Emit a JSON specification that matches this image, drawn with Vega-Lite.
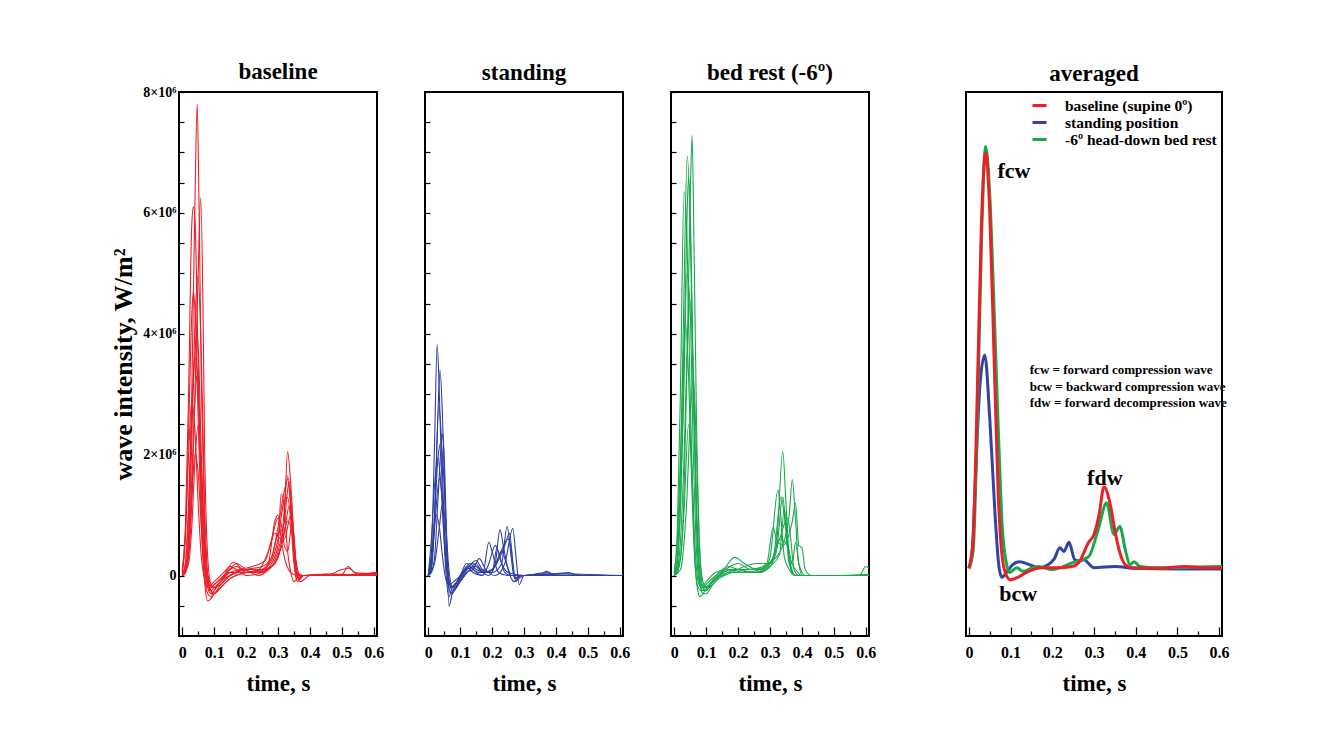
{
  "$schema": "https://vega.github.io/schema/vega-lite/v6.json",
  "autosize": {"type": "none"},
  "padding": {"left": 179, "top": 92, "right": 1138, "bottom": 648},
  "background": "white",
  "config": {
    "font": "Liberation Serif",
    "view": {"stroke": "black", "strokeWidth": 2},
    "title": {"fontSize": 23, "fontWeight": "bold", "offset": 6, "color": "black"},
    "axis": {"domain": false, "grid": false, "tickColor": "black", "tickWidth": 1.2, "labelColor": "black", "titleColor": "black", "labelFontWeight": "bold", "titleFontWeight": "bold", "labelOverlap": false, "labelFlush": false, "labelBound": false},
    "line": {"interpolate": "monotone"}
  },
  "datasets": {
    "baseline": [
      {"beat":1,"t":0,"wi":0},{"beat":1,"t":0.01,"wi":0.05},{"beat":1,"t":0.02,"wi":0.6},{"beat":1,"t":0.03,"wi":3.0},{"beat":1,"t":0.04,"wi":6.2},{"beat":1,"t":0.047,"wi":7.8},{"beat":1,"t":0.053,"wi":6.0},{"beat":1,"t":0.06,"wi":3.2},{"beat":1,"t":0.07,"wi":0.8},{"beat":1,"t":0.08,"wi":-0.15},{"beat":1,"t":0.09,"wi":-0.2},{"beat":1,"t":0.1,"wi":-0.15},{"beat":1,"t":0.12,"wi":-0.05},{"beat":1,"t":0.15,"wi":0.05},{"beat":1,"t":0.2,"wi":0.05},{"beat":1,"t":0.25,"wi":0.1},{"beat":1,"t":0.28,"wi":0.3},{"beat":1,"t":0.3,"wi":0.8},{"beat":1,"t":0.32,"wi":1.4},{"beat":1,"t":0.33,"wi":1.6},{"beat":1,"t":0.34,"wi":1.1},{"beat":1,"t":0.35,"wi":0.3},{"beat":1,"t":0.36,"wi":-0.05},{"beat":1,"t":0.38,"wi":0},{"beat":1,"t":0.45,"wi":0},{"beat":1,"t":0.5,"wi":0.02},{"beat":1,"t":0.55,"wi":0},{"beat":1,"t":0.61,"wi":0.02},
      {"beat":2,"t":0,"wi":0.1},{"beat":2,"t":0.01,"wi":0.8},{"beat":2,"t":0.02,"wi":3.0},{"beat":2,"t":0.03,"wi":5.8},{"beat":2,"t":0.035,"wi":6.1},{"beat":2,"t":0.04,"wi":5.9},{"beat":2,"t":0.05,"wi":3.5},{"beat":2,"t":0.06,"wi":1.2},{"beat":2,"t":0.07,"wi":0},{"beat":2,"t":0.08,"wi":-0.3},{"beat":2,"t":0.09,"wi":-0.35},{"beat":2,"t":0.1,"wi":-0.25},{"beat":2,"t":0.12,"wi":-0.1},{"beat":2,"t":0.15,"wi":0.1},{"beat":2,"t":0.17,"wi":0.15},{"beat":2,"t":0.2,"wi":0.05},{"beat":2,"t":0.25,"wi":0.05},{"beat":2,"t":0.27,"wi":0.2},{"beat":2,"t":0.29,"wi":0.9},{"beat":2,"t":0.3,"wi":1.0},{"beat":2,"t":0.31,"wi":0.6},{"beat":2,"t":0.32,"wi":0.3},{"beat":2,"t":0.34,"wi":0.05},{"beat":2,"t":0.36,"wi":0},{"beat":2,"t":0.45,"wi":0.02},{"beat":2,"t":0.5,"wi":0.02},{"beat":2,"t":0.52,"wi":0.15},{"beat":2,"t":0.54,"wi":0.05},{"beat":2,"t":0.61,"wi":0.03},
      {"beat":3,"t":0,"wi":0},{"beat":3,"t":0.01,"wi":0.1},{"beat":3,"t":0.02,"wi":0.6},{"beat":3,"t":0.03,"wi":2.2},{"beat":3,"t":0.04,"wi":4.2},{"beat":3,"t":0.05,"wi":4.95},{"beat":3,"t":0.06,"wi":3.6},{"beat":3,"t":0.07,"wi":1.2},{"beat":3,"t":0.08,"wi":0},{"beat":3,"t":0.09,"wi":-0.3},{"beat":3,"t":0.1,"wi":-0.3},{"beat":3,"t":0.12,"wi":-0.15},{"beat":3,"t":0.15,"wi":0},{"beat":3,"t":0.2,"wi":0.1},{"beat":3,"t":0.25,"wi":0.1},{"beat":3,"t":0.28,"wi":0.15},{"beat":3,"t":0.3,"wi":0.3},{"beat":3,"t":0.32,"wi":1.0},{"beat":3,"t":0.33,"wi":2.05},{"beat":3,"t":0.34,"wi":1.5},{"beat":3,"t":0.35,"wi":0.6},{"beat":3,"t":0.36,"wi":0},{"beat":3,"t":0.37,"wi":-0.1},{"beat":3,"t":0.4,"wi":0},{"beat":3,"t":0.5,"wi":0},{"beat":3,"t":0.61,"wi":0.05},
      {"beat":4,"t":0,"wi":0.05},{"beat":4,"t":0.01,"wi":0.6},{"beat":4,"t":0.02,"wi":2.4},{"beat":4,"t":0.03,"wi":4.3},{"beat":4,"t":0.035,"wi":4.7},{"beat":4,"t":0.04,"wi":4.4},{"beat":4,"t":0.05,"wi":2.6},{"beat":4,"t":0.06,"wi":0.8},{"beat":4,"t":0.07,"wi":-0.1},{"beat":4,"t":0.08,"wi":-0.42},{"beat":4,"t":0.09,"wi":-0.38},{"beat":4,"t":0.1,"wi":-0.3},{"beat":4,"t":0.12,"wi":-0.2},{"beat":4,"t":0.15,"wi":-0.05},{"beat":4,"t":0.2,"wi":0.05},{"beat":4,"t":0.24,"wi":0.1},{"beat":4,"t":0.27,"wi":0.4},{"beat":4,"t":0.29,"wi":0.7},{"beat":4,"t":0.31,"wi":0.6},{"beat":4,"t":0.33,"wi":1.65},{"beat":4,"t":0.34,"wi":1.2},{"beat":4,"t":0.35,"wi":0.3},{"beat":4,"t":0.36,"wi":-0.05},{"beat":4,"t":0.38,"wi":0},{"beat":4,"t":0.45,"wi":0},{"beat":4,"t":0.61,"wi":0.02},
      {"beat":5,"t":0,"wi":0},{"beat":5,"t":0.01,"wi":0.2},{"beat":5,"t":0.02,"wi":1.2},{"beat":5,"t":0.03,"wi":2.8},{"beat":5,"t":0.04,"wi":3.6},{"beat":5,"t":0.05,"wi":3.2},{"beat":5,"t":0.06,"wi":1.5},{"beat":5,"t":0.07,"wi":0.3},{"beat":5,"t":0.08,"wi":-0.1},{"beat":5,"t":0.09,"wi":-0.2},{"beat":5,"t":0.1,"wi":-0.15},{"beat":5,"t":0.13,"wi":0},{"beat":5,"t":0.16,"wi":0.22},{"beat":5,"t":0.19,"wi":0.1},{"beat":5,"t":0.23,"wi":0.05},{"beat":5,"t":0.27,"wi":0.1},{"beat":5,"t":0.3,"wi":0.4},{"beat":5,"t":0.32,"wi":0.9},{"beat":5,"t":0.335,"wi":1.55},{"beat":5,"t":0.345,"wi":1.0},{"beat":5,"t":0.355,"wi":0.2},{"beat":5,"t":0.365,"wi":-0.05},{"beat":5,"t":0.38,"wi":0},{"beat":5,"t":0.45,"wi":0.02},{"beat":5,"t":0.61,"wi":0},
      {"beat":6,"t":0,"wi":0},{"beat":6,"t":0.01,"wi":0.05},{"beat":6,"t":0.02,"wi":0.4},{"beat":6,"t":0.03,"wi":1.6},{"beat":6,"t":0.04,"wi":2.9},{"beat":6,"t":0.045,"wi":3.3},{"beat":6,"t":0.05,"wi":3.0},{"beat":6,"t":0.06,"wi":1.4},{"beat":6,"t":0.07,"wi":0.2},{"beat":6,"t":0.08,"wi":-0.15},{"beat":6,"t":0.09,"wi":-0.25},{"beat":6,"t":0.1,"wi":-0.2},{"beat":6,"t":0.12,"wi":-0.1},{"beat":6,"t":0.15,"wi":0.05},{"beat":6,"t":0.18,"wi":0.1},{"beat":6,"t":0.22,"wi":0.15},{"beat":6,"t":0.26,"wi":0.25},{"beat":6,"t":0.28,"wi":0.6},{"beat":6,"t":0.3,"wi":0.95},{"beat":6,"t":0.31,"wi":0.85},{"beat":6,"t":0.32,"wi":0.5},{"beat":6,"t":0.33,"wi":0.4},{"beat":6,"t":0.345,"wi":0.9},{"beat":6,"t":0.355,"wi":0.3},{"beat":6,"t":0.37,"wi":0},{"beat":6,"t":0.4,"wi":0},{"beat":6,"t":0.61,"wi":0},
      {"beat":7,"t":0,"wi":0.05},{"beat":7,"t":0.01,"wi":0.7},{"beat":7,"t":0.02,"wi":2.0},{"beat":7,"t":0.03,"wi":2.9},{"beat":7,"t":0.04,"wi":2.4},{"beat":7,"t":0.05,"wi":1.2},{"beat":7,"t":0.06,"wi":0.3},{"beat":7,"t":0.07,"wi":-0.05},{"beat":7,"t":0.08,"wi":-0.2},{"beat":7,"t":0.1,"wi":-0.1},{"beat":7,"t":0.13,"wi":0.05},{"beat":7,"t":0.15,"wi":0.15},{"beat":7,"t":0.17,"wi":0.1},{"beat":7,"t":0.2,"wi":0},{"beat":7,"t":0.25,"wi":0.05},{"beat":7,"t":0.28,"wi":0.2},{"beat":7,"t":0.3,"wi":0.5},{"beat":7,"t":0.31,"wi":1.35},{"beat":7,"t":0.32,"wi":1.1},{"beat":7,"t":0.33,"wi":0.4},{"beat":7,"t":0.34,"wi":0.05},{"beat":7,"t":0.35,"wi":-0.1},{"beat":7,"t":0.37,"wi":0},{"beat":7,"t":0.45,"wi":0},{"beat":7,"t":0.55,"wi":0.02},{"beat":7,"t":0.61,"wi":0.02},
      {"beat":8,"t":0,"wi":0},{"beat":8,"t":0.02,"wi":0.2},{"beat":8,"t":0.03,"wi":0.8},{"beat":8,"t":0.04,"wi":1.9},{"beat":8,"t":0.05,"wi":2.5},{"beat":8,"t":0.06,"wi":1.8},{"beat":8,"t":0.07,"wi":0.6},{"beat":8,"t":0.08,"wi":0},{"beat":8,"t":0.09,"wi":-0.15},{"beat":8,"t":0.1,"wi":-0.2},{"beat":8,"t":0.12,"wi":-0.1},{"beat":8,"t":0.15,"wi":0},{"beat":8,"t":0.18,"wi":0.05},{"beat":8,"t":0.22,"wi":0.05},{"beat":8,"t":0.26,"wi":0.1},{"beat":8,"t":0.29,"wi":0.2},{"beat":8,"t":0.31,"wi":0.5},{"beat":8,"t":0.33,"wi":0.9},{"beat":8,"t":0.345,"wi":0.7},{"beat":8,"t":0.355,"wi":0.2},{"beat":8,"t":0.365,"wi":-0.08},{"beat":8,"t":0.38,"wi":0},{"beat":8,"t":0.45,"wi":0},{"beat":8,"t":0.5,"wi":0.1},{"beat":8,"t":0.52,"wi":0.12},{"beat":8,"t":0.55,"wi":0.02},{"beat":8,"t":0.61,"wi":0},
      {"beat":9,"t":0,"wi":0},{"beat":9,"t":0.01,"wi":0.1},{"beat":9,"t":0.02,"wi":0.5},{"beat":9,"t":0.03,"wi":1.3},{"beat":9,"t":0.04,"wi":2.0},{"beat":9,"t":0.05,"wi":1.7},{"beat":9,"t":0.06,"wi":0.8},{"beat":9,"t":0.07,"wi":0.1},{"beat":9,"t":0.08,"wi":-0.2},{"beat":9,"t":0.09,"wi":-0.3},{"beat":9,"t":0.1,"wi":-0.25},{"beat":9,"t":0.12,"wi":-0.1},{"beat":9,"t":0.14,"wi":0.05},{"beat":9,"t":0.17,"wi":0.2},{"beat":9,"t":0.2,"wi":0.1},{"beat":9,"t":0.24,"wi":0},{"beat":9,"t":0.27,"wi":0.1},{"beat":9,"t":0.3,"wi":0.3},{"beat":9,"t":0.32,"wi":0.7},{"beat":9,"t":0.335,"wi":1.15},{"beat":9,"t":0.345,"wi":0.8},{"beat":9,"t":0.355,"wi":0.1},{"beat":9,"t":0.37,"wi":0},{"beat":9,"t":0.45,"wi":0.02},{"beat":9,"t":0.61,"wi":0},
      {"beat":10,"t":0,"wi":0.02},{"beat":10,"t":0.01,"wi":0.2},{"beat":10,"t":0.02,"wi":1.0},{"beat":10,"t":0.03,"wi":2.6},{"beat":10,"t":0.04,"wi":3.7},{"beat":10,"t":0.045,"wi":4.0},{"beat":10,"t":0.05,"wi":3.8},{"beat":10,"t":0.06,"wi":2.0},{"beat":10,"t":0.07,"wi":0.5},{"beat":10,"t":0.08,"wi":0},{"beat":10,"t":0.09,"wi":-0.25},{"beat":10,"t":0.1,"wi":-0.3},{"beat":10,"t":0.12,"wi":-0.2},{"beat":10,"t":0.15,"wi":-0.05},{"beat":10,"t":0.2,"wi":0.05},{"beat":10,"t":0.25,"wi":0.1},{"beat":10,"t":0.28,"wi":0.25},{"beat":10,"t":0.3,"wi":0.6},{"beat":10,"t":0.32,"wi":1.25},{"beat":10,"t":0.33,"wi":1.3},{"beat":10,"t":0.34,"wi":0.9},{"beat":10,"t":0.35,"wi":0.2},{"beat":10,"t":0.36,"wi":-0.1},{"beat":10,"t":0.38,"wi":0},{"beat":10,"t":0.45,"wi":0},{"beat":10,"t":0.61,"wi":0.05},
      {"beat":11,"t":0,"wi":0},{"beat":11,"t":0.01,"wi":0.05},{"beat":11,"t":0.02,"wi":0.3},{"beat":11,"t":0.03,"wi":1.2},{"beat":11,"t":0.04,"wi":3.0},{"beat":11,"t":0.05,"wi":5.0},{"beat":11,"t":0.058,"wi":6.25},{"beat":11,"t":0.065,"wi":4.5},{"beat":11,"t":0.07,"wi":2.2},{"beat":11,"t":0.08,"wi":0.3},{"beat":11,"t":0.09,"wi":-0.15},{"beat":11,"t":0.1,"wi":-0.2},{"beat":11,"t":0.12,"wi":-0.15},{"beat":11,"t":0.15,"wi":0},{"beat":11,"t":0.2,"wi":0.1},{"beat":11,"t":0.25,"wi":0.15},{"beat":11,"t":0.28,"wi":0.3},{"beat":11,"t":0.3,"wi":0.7},{"beat":11,"t":0.31,"wi":0.75},{"beat":11,"t":0.32,"wi":0.6},{"beat":11,"t":0.34,"wi":1.0},{"beat":11,"t":0.35,"wi":0.6},{"beat":11,"t":0.36,"wi":0.05},{"beat":11,"t":0.38,"wi":0},{"beat":11,"t":0.45,"wi":0},{"beat":11,"t":0.61,"wi":0.02}
    ],
    "standing": [
      {"beat":1,"t":0,"wi":0},{"beat":1,"t":0.01,"wi":0.4},{"beat":1,"t":0.02,"wi":2.2},{"beat":1,"t":0.028,"wi":3.82},{"beat":1,"t":0.035,"wi":3.0},{"beat":1,"t":0.045,"wi":1.2},{"beat":1,"t":0.055,"wi":0.1},{"beat":1,"t":0.065,"wi":-0.35},{"beat":1,"t":0.075,"wi":-0.2},{"beat":1,"t":0.09,"wi":-0.1},{"beat":1,"t":0.11,"wi":0.05},{"beat":1,"t":0.13,"wi":0.15},{"beat":1,"t":0.15,"wi":0.05},{"beat":1,"t":0.17,"wi":0},{"beat":1,"t":0.19,"wi":0.2},{"beat":1,"t":0.21,"wi":0.5},{"beat":1,"t":0.225,"wi":0.3},{"beat":1,"t":0.24,"wi":0.05},{"beat":1,"t":0.26,"wi":0},{"beat":1,"t":0.3,"wi":0},{"beat":1,"t":0.35,"wi":0.02},{"beat":1,"t":0.37,"wi":0.07},{"beat":1,"t":0.4,"wi":0},{"beat":1,"t":0.5,"wi":0},{"beat":1,"t":0.61,"wi":0},
      {"beat":2,"t":0,"wi":0},{"beat":2,"t":0.01,"wi":0.1},{"beat":2,"t":0.02,"wi":0.9},{"beat":2,"t":0.03,"wi":2.6},{"beat":2,"t":0.037,"wi":3.4},{"beat":2,"t":0.045,"wi":2.6},{"beat":2,"t":0.055,"wi":0.8},{"beat":2,"t":0.065,"wi":-0.2},{"beat":2,"t":0.075,"wi":-0.3},{"beat":2,"t":0.09,"wi":-0.15},{"beat":2,"t":0.11,"wi":0},{"beat":2,"t":0.14,"wi":0.2},{"beat":2,"t":0.16,"wi":0.1},{"beat":2,"t":0.19,"wi":0},{"beat":2,"t":0.21,"wi":0.2},{"beat":2,"t":0.225,"wi":0.76},{"beat":2,"t":0.235,"wi":0.5},{"beat":2,"t":0.25,"wi":0.1},{"beat":2,"t":0.27,"wi":-0.1},{"beat":2,"t":0.29,"wi":0},{"beat":2,"t":0.35,"wi":0},{"beat":2,"t":0.44,"wi":0.05},{"beat":2,"t":0.47,"wi":0},{"beat":2,"t":0.61,"wi":0},
      {"beat":3,"t":0,"wi":0},{"beat":3,"t":0.01,"wi":0.05},{"beat":3,"t":0.02,"wi":0.3},{"beat":3,"t":0.03,"wi":1.2},{"beat":3,"t":0.04,"wi":2.1},{"beat":3,"t":0.045,"wi":2.35},{"beat":3,"t":0.05,"wi":2.0},{"beat":3,"t":0.057,"wi":0.8},{"beat":3,"t":0.065,"wi":-0.51},{"beat":3,"t":0.075,"wi":-0.3},{"beat":3,"t":0.085,"wi":-0.15},{"beat":3,"t":0.1,"wi":-0.05},{"beat":3,"t":0.12,"wi":0.1},{"beat":3,"t":0.15,"wi":0.25},{"beat":3,"t":0.17,"wi":0.1},{"beat":3,"t":0.2,"wi":0.05},{"beat":3,"t":0.23,"wi":0.2},{"beat":3,"t":0.247,"wi":0.81},{"beat":3,"t":0.26,"wi":0.3},{"beat":3,"t":0.27,"wi":-0.05},{"beat":3,"t":0.29,"wi":0},{"beat":3,"t":0.35,"wi":0},{"beat":3,"t":0.45,"wi":0},{"beat":3,"t":0.61,"wi":0},
      {"beat":4,"t":0,"wi":0},{"beat":4,"t":0.01,"wi":0.3},{"beat":4,"t":0.02,"wi":1.0},{"beat":4,"t":0.03,"wi":1.9},{"beat":4,"t":0.04,"wi":2.2},{"beat":4,"t":0.05,"wi":1.5},{"beat":4,"t":0.06,"wi":0.3},{"beat":4,"t":0.07,"wi":-0.2},{"beat":4,"t":0.08,"wi":-0.25},{"beat":4,"t":0.1,"wi":-0.1},{"beat":4,"t":0.12,"wi":0.05},{"beat":4,"t":0.14,"wi":0.1},{"beat":4,"t":0.16,"wi":0.28},{"beat":4,"t":0.18,"wi":0.1},{"beat":4,"t":0.21,"wi":0},{"beat":4,"t":0.24,"wi":0.2},{"beat":4,"t":0.265,"wi":0.78},{"beat":4,"t":0.275,"wi":0.3},{"beat":4,"t":0.285,"wi":-0.15},{"beat":4,"t":0.3,"wi":0},{"beat":4,"t":0.36,"wi":0.02},{"beat":4,"t":0.45,"wi":0},{"beat":4,"t":0.61,"wi":0},
      {"beat":5,"t":0,"wi":0},{"beat":5,"t":0.01,"wi":0.6},{"beat":5,"t":0.02,"wi":1.5},{"beat":5,"t":0.03,"wi":1.95},{"beat":5,"t":0.04,"wi":1.5},{"beat":5,"t":0.05,"wi":0.6},{"beat":5,"t":0.06,"wi":0},{"beat":5,"t":0.07,"wi":-0.15},{"beat":5,"t":0.085,"wi":-0.2},{"beat":5,"t":0.1,"wi":-0.05},{"beat":5,"t":0.12,"wi":0.15},{"beat":5,"t":0.14,"wi":0.05},{"beat":5,"t":0.17,"wi":0},{"beat":5,"t":0.19,"wi":0.55},{"beat":5,"t":0.2,"wi":0.4},{"beat":5,"t":0.22,"wi":0.05},{"beat":5,"t":0.25,"wi":0},{"beat":5,"t":0.3,"wi":0},{"beat":5,"t":0.37,"wi":0.05},{"beat":5,"t":0.4,"wi":0},{"beat":5,"t":0.61,"wi":0},
      {"beat":6,"t":0,"wi":0},{"beat":6,"t":0.01,"wi":0.2},{"beat":6,"t":0.02,"wi":0.8},{"beat":6,"t":0.035,"wi":1.6},{"beat":6,"t":0.045,"wi":1.2},{"beat":6,"t":0.055,"wi":0.3},{"beat":6,"t":0.065,"wi":-0.1},{"beat":6,"t":0.075,"wi":-0.2},{"beat":6,"t":0.09,"wi":-0.1},{"beat":6,"t":0.11,"wi":0.05},{"beat":6,"t":0.13,"wi":0.2},{"beat":6,"t":0.15,"wi":0.1},{"beat":6,"t":0.18,"wi":0.05},{"beat":6,"t":0.21,"wi":0.15},{"beat":6,"t":0.23,"wi":0.4},{"beat":6,"t":0.245,"wi":0.2},{"beat":6,"t":0.26,"wi":0},{"beat":6,"t":0.3,"wi":0},{"beat":6,"t":0.43,"wi":0.03},{"beat":6,"t":0.5,"wi":0},{"beat":6,"t":0.61,"wi":0},
      {"beat":7,"t":0,"wi":0},{"beat":7,"t":0.02,"wi":0.2},{"beat":7,"t":0.035,"wi":0.8},{"beat":7,"t":0.045,"wi":1.2},{"beat":7,"t":0.055,"wi":0.8},{"beat":7,"t":0.065,"wi":0.1},{"beat":7,"t":0.075,"wi":-0.2},{"beat":7,"t":0.085,"wi":-0.15},{"beat":7,"t":0.1,"wi":0},{"beat":7,"t":0.12,"wi":0.1},{"beat":7,"t":0.15,"wi":0.15},{"beat":7,"t":0.18,"wi":0.05},{"beat":7,"t":0.2,"wi":0.1},{"beat":7,"t":0.22,"wi":0.3},{"beat":7,"t":0.25,"wi":0.6},{"beat":7,"t":0.26,"wi":0.45},{"beat":7,"t":0.27,"wi":0},{"beat":7,"t":0.28,"wi":-0.05},{"beat":7,"t":0.3,"wi":0},{"beat":7,"t":0.38,"wi":0.03},{"beat":7,"t":0.61,"wi":0},
      {"beat":8,"t":0,"wi":0},{"beat":8,"t":0.01,"wi":0.3},{"beat":8,"t":0.025,"wi":1.0},{"beat":8,"t":0.035,"wi":0.8},{"beat":8,"t":0.045,"wi":0.3},{"beat":8,"t":0.055,"wi":-0.05},{"beat":8,"t":0.065,"wi":-0.15},{"beat":8,"t":0.08,"wi":-0.1},{"beat":8,"t":0.1,"wi":0},{"beat":8,"t":0.12,"wi":0.2},{"beat":8,"t":0.14,"wi":0.1},{"beat":8,"t":0.16,"wi":0.05},{"beat":8,"t":0.2,"wi":0.05},{"beat":8,"t":0.215,"wi":0.45},{"beat":8,"t":0.23,"wi":0.2},{"beat":8,"t":0.25,"wi":0.05},{"beat":8,"t":0.3,"wi":0},{"beat":8,"t":0.61,"wi":0},
      {"beat":9,"t":0,"wi":0},{"beat":9,"t":0.01,"wi":0.15},{"beat":9,"t":0.02,"wi":1.0},{"beat":9,"t":0.033,"wi":2.8},{"beat":9,"t":0.04,"wi":2.4},{"beat":9,"t":0.05,"wi":0.9},{"beat":9,"t":0.06,"wi":0},{"beat":9,"t":0.07,"wi":-0.3},{"beat":9,"t":0.08,"wi":-0.25},{"beat":9,"t":0.1,"wi":-0.1},{"beat":9,"t":0.13,"wi":0.1},{"beat":9,"t":0.15,"wi":0.2},{"beat":9,"t":0.17,"wi":0.05},{"beat":9,"t":0.2,"wi":0.1},{"beat":9,"t":0.24,"wi":0.5},{"beat":9,"t":0.255,"wi":0.7},{"beat":9,"t":0.265,"wi":0.2},{"beat":9,"t":0.275,"wi":-0.1},{"beat":9,"t":0.29,"wi":0},{"beat":9,"t":0.35,"wi":0},{"beat":9,"t":0.61,"wi":0}
    ],
    "bedrest": [
      {"beat":1,"t":0,"wi":0},{"beat":1,"t":0.01,"wi":0.05},{"beat":1,"t":0.02,"wi":0.3},{"beat":1,"t":0.03,"wi":1.2},{"beat":1,"t":0.04,"wi":3.5},{"beat":1,"t":0.05,"wi":6.2},{"beat":1,"t":0.056,"wi":7.28},{"beat":1,"t":0.062,"wi":5.5},{"beat":1,"t":0.07,"wi":2.5},{"beat":1,"t":0.08,"wi":0.4},{"beat":1,"t":0.09,"wi":-0.2},{"beat":1,"t":0.1,"wi":-0.25},{"beat":1,"t":0.12,"wi":-0.1},{"beat":1,"t":0.15,"wi":0},{"beat":1,"t":0.2,"wi":0.1},{"beat":1,"t":0.25,"wi":0.05},{"beat":1,"t":0.29,"wi":0.1},{"beat":1,"t":0.32,"wi":0.4},{"beat":1,"t":0.34,"wi":1.3},{"beat":1,"t":0.35,"wi":0.8},{"beat":1,"t":0.36,"wi":0.3},{"beat":1,"t":0.38,"wi":0.1},{"beat":1,"t":0.4,"wi":0},{"beat":1,"t":0.5,"wi":0},{"beat":1,"t":0.61,"wi":0.02},
      {"beat":2,"t":0,"wi":0},{"beat":2,"t":0.01,"wi":0.3},{"beat":2,"t":0.02,"wi":1.8},{"beat":2,"t":0.03,"wi":4.5},{"beat":2,"t":0.041,"wi":6.94},{"beat":2,"t":0.05,"wi":5.8},{"beat":2,"t":0.06,"wi":3.0},{"beat":2,"t":0.07,"wi":0.8},{"beat":2,"t":0.08,"wi":-0.1},{"beat":2,"t":0.09,"wi":-0.3},{"beat":2,"t":0.1,"wi":-0.3},{"beat":2,"t":0.12,"wi":-0.15},{"beat":2,"t":0.15,"wi":0.05},{"beat":2,"t":0.19,"wi":0.3},{"beat":2,"t":0.22,"wi":0.2},{"beat":2,"t":0.26,"wi":0.1},{"beat":2,"t":0.3,"wi":0.2},{"beat":2,"t":0.32,"wi":0.5},{"beat":2,"t":0.34,"wi":2.05},{"beat":2,"t":0.35,"wi":1.2},{"beat":2,"t":0.36,"wi":0.3},{"beat":2,"t":0.38,"wi":0},{"beat":2,"t":0.4,"wi":0},{"beat":2,"t":0.5,"wi":0},{"beat":2,"t":0.61,"wi":0},
      {"beat":3,"t":0,"wi":0.02},{"beat":3,"t":0.01,"wi":0.8},{"beat":3,"t":0.02,"wi":3.2},{"beat":3,"t":0.031,"wi":6.35},{"beat":3,"t":0.04,"wi":5.6},{"beat":3,"t":0.05,"wi":3.0},{"beat":3,"t":0.06,"wi":0.9},{"beat":3,"t":0.07,"wi":-0.1},{"beat":3,"t":0.08,"wi":-0.35},{"beat":3,"t":0.09,"wi":-0.3},{"beat":3,"t":0.11,"wi":-0.15},{"beat":3,"t":0.14,"wi":0.05},{"beat":3,"t":0.17,"wi":0.15},{"beat":3,"t":0.2,"wi":0.1},{"beat":3,"t":0.25,"wi":0.05},{"beat":3,"t":0.28,"wi":0.1},{"beat":3,"t":0.3,"wi":0.3},{"beat":3,"t":0.325,"wi":1.42},{"beat":3,"t":0.335,"wi":0.9},{"beat":3,"t":0.345,"wi":0.3},{"beat":3,"t":0.36,"wi":0.1},{"beat":3,"t":0.38,"wi":0},{"beat":3,"t":0.45,"wi":0},{"beat":3,"t":0.61,"wi":0},
      {"beat":4,"t":0,"wi":0},{"beat":4,"t":0.01,"wi":0.1},{"beat":4,"t":0.02,"wi":0.6},{"beat":4,"t":0.03,"wi":1.8},{"beat":4,"t":0.04,"wi":3.6},{"beat":4,"t":0.05,"wi":4.55},{"beat":4,"t":0.06,"wi":3.3},{"beat":4,"t":0.07,"wi":1.2},{"beat":4,"t":0.08,"wi":0.1},{"beat":4,"t":0.09,"wi":-0.2},{"beat":4,"t":0.1,"wi":-0.2},{"beat":4,"t":0.13,"wi":-0.05},{"beat":4,"t":0.17,"wi":0.05},{"beat":4,"t":0.22,"wi":0.05},{"beat":4,"t":0.27,"wi":0.1},{"beat":4,"t":0.31,"wi":0.25},{"beat":4,"t":0.34,"wi":0.5},{"beat":4,"t":0.36,"wi":1.0},{"beat":4,"t":0.37,"wi":1.59},{"beat":4,"t":0.38,"wi":0.9},{"beat":4,"t":0.39,"wi":0.2},{"beat":4,"t":0.41,"wi":0},{"beat":4,"t":0.5,"wi":0},{"beat":4,"t":0.61,"wi":0},
      {"beat":5,"t":0,"wi":0},{"beat":5,"t":0.01,"wi":0.2},{"beat":5,"t":0.02,"wi":1.2},{"beat":5,"t":0.03,"wi":3.4},{"beat":5,"t":0.04,"wi":5.9},{"beat":5,"t":0.045,"wi":6.6},{"beat":5,"t":0.052,"wi":5.6},{"beat":5,"t":0.06,"wi":3.2},{"beat":5,"t":0.07,"wi":1.0},{"beat":5,"t":0.08,"wi":0},{"beat":5,"t":0.09,"wi":-0.2},{"beat":5,"t":0.11,"wi":-0.15},{"beat":5,"t":0.14,"wi":0},{"beat":5,"t":0.18,"wi":0.1},{"beat":5,"t":0.23,"wi":0.1},{"beat":5,"t":0.28,"wi":0.15},{"beat":5,"t":0.31,"wi":0.3},{"beat":5,"t":0.335,"wi":1.3},{"beat":5,"t":0.345,"wi":1.0},{"beat":5,"t":0.36,"wi":0.2},{"beat":5,"t":0.38,"wi":0},{"beat":5,"t":0.45,"wi":0},{"beat":5,"t":0.58,"wi":0},{"beat":5,"t":0.6,"wi":0.15},{"beat":5,"t":0.61,"wi":0.12},
      {"beat":6,"t":0,"wi":0.05},{"beat":6,"t":0.01,"wi":0.6},{"beat":6,"t":0.02,"wi":2.0},{"beat":6,"t":0.035,"wi":4.2},{"beat":6,"t":0.045,"wi":3.3},{"beat":6,"t":0.055,"wi":1.5},{"beat":6,"t":0.065,"wi":0.2},{"beat":6,"t":0.075,"wi":-0.2},{"beat":6,"t":0.085,"wi":-0.25},{"beat":6,"t":0.1,"wi":-0.15},{"beat":6,"t":0.13,"wi":0},{"beat":6,"t":0.16,"wi":0.1},{"beat":6,"t":0.2,"wi":0.2},{"beat":6,"t":0.24,"wi":0.1},{"beat":6,"t":0.28,"wi":0.1},{"beat":6,"t":0.31,"wi":0.3},{"beat":6,"t":0.33,"wi":0.6},{"beat":6,"t":0.355,"wi":0.95},{"beat":6,"t":0.365,"wi":0.6},{"beat":6,"t":0.375,"wi":0.1},{"beat":6,"t":0.39,"wi":0},{"beat":6,"t":0.45,"wi":0},{"beat":6,"t":0.61,"wi":0},
      {"beat":7,"t":0,"wi":0},{"beat":7,"t":0.02,"wi":0.1},{"beat":7,"t":0.03,"wi":0.5},{"beat":7,"t":0.04,"wi":1.3},{"beat":7,"t":0.05,"wi":2.6},{"beat":7,"t":0.06,"wi":3.3},{"beat":7,"t":0.07,"wi":2.0},{"beat":7,"t":0.08,"wi":0.4},{"beat":7,"t":0.09,"wi":-0.1},{"beat":7,"t":0.1,"wi":-0.2},{"beat":7,"t":0.12,"wi":-0.1},{"beat":7,"t":0.15,"wi":0.05},{"beat":7,"t":0.2,"wi":0.1},{"beat":7,"t":0.25,"wi":0.1},{"beat":7,"t":0.29,"wi":0.2},{"beat":7,"t":0.31,"wi":0.8},{"beat":7,"t":0.32,"wi":0.6},{"beat":7,"t":0.34,"wi":0.5},{"beat":7,"t":0.37,"wi":0.9},{"beat":7,"t":0.38,"wi":1.2},{"beat":7,"t":0.39,"wi":0.5},{"beat":7,"t":0.4,"wi":0.46},{"beat":7,"t":0.41,"wi":0.1},{"beat":7,"t":0.43,"wi":0},{"beat":7,"t":0.5,"wi":0},{"beat":7,"t":0.61,"wi":0},
      {"beat":8,"t":0,"wi":0},{"beat":8,"t":0.01,"wi":0.3},{"beat":8,"t":0.02,"wi":1.2},{"beat":8,"t":0.03,"wi":3.0},{"beat":8,"t":0.04,"wi":5.0},{"beat":8,"t":0.05,"wi":4.4},{"beat":8,"t":0.06,"wi":2.0},{"beat":8,"t":0.07,"wi":0.4},{"beat":8,"t":0.08,"wi":-0.15},{"beat":8,"t":0.09,"wi":-0.25},{"beat":8,"t":0.11,"wi":-0.2},{"beat":8,"t":0.14,"wi":-0.05},{"beat":8,"t":0.18,"wi":0.05},{"beat":8,"t":0.22,"wi":0.15},{"beat":8,"t":0.26,"wi":0.2},{"beat":8,"t":0.3,"wi":0.2},{"beat":8,"t":0.33,"wi":0.6},{"beat":8,"t":0.355,"wi":0.5},{"beat":8,"t":0.37,"wi":0.2},{"beat":8,"t":0.38,"wi":0.55},{"beat":8,"t":0.39,"wi":0.2},{"beat":8,"t":0.4,"wi":0},{"beat":8,"t":0.5,"wi":0},{"beat":8,"t":0.61,"wi":0},
      {"beat":9,"t":0,"wi":0},{"beat":9,"t":0.02,"wi":0.3},{"beat":9,"t":0.03,"wi":1.0},{"beat":9,"t":0.045,"wi":2.5},{"beat":9,"t":0.055,"wi":1.8},{"beat":9,"t":0.065,"wi":0.5},{"beat":9,"t":0.075,"wi":-0.1},{"beat":9,"t":0.085,"wi":-0.2},{"beat":9,"t":0.1,"wi":-0.1},{"beat":9,"t":0.13,"wi":0.05},{"beat":9,"t":0.17,"wi":0.1},{"beat":9,"t":0.22,"wi":0.05},{"beat":9,"t":0.27,"wi":0.05},{"beat":9,"t":0.3,"wi":0.15},{"beat":9,"t":0.33,"wi":0.35},{"beat":9,"t":0.345,"wi":1.1},{"beat":9,"t":0.355,"wi":0.6},{"beat":9,"t":0.365,"wi":0.1},{"beat":9,"t":0.38,"wi":0},{"beat":9,"t":0.5,"wi":0},{"beat":9,"t":0.61,"wi":0}
    ],
    "averaged": [
      {"condition":"standing position","t":0,"wi":0.12},{"condition":"standing position","t":0.008,"wi":0.4},{"condition":"standing position","t":0.015,"wi":1.5},{"condition":"standing position","t":0.027,"wi":3.2},{"condition":"standing position","t":0.038,"wi":3.65},{"condition":"standing position","t":0.05,"wi":2.6},{"condition":"standing position","t":0.063,"wi":0.97},{"condition":"standing position","t":0.072,"wi":0.15},{"condition":"standing position","t":0.079,"wi":-0.03},{"condition":"standing position","t":0.09,"wi":0.05},{"condition":"standing position","t":0.105,"wi":0.18},{"condition":"standing position","t":0.122,"wi":0.23},{"condition":"standing position","t":0.145,"wi":0.18},{"condition":"standing position","t":0.168,"wi":0.13},{"condition":"standing position","t":0.19,"wi":0.18},{"condition":"standing position","t":0.205,"wi":0.28},{"condition":"standing position","t":0.218,"wi":0.46},{"condition":"standing position","t":0.228,"wi":0.4},{"condition":"standing position","t":0.24,"wi":0.55},{"condition":"standing position","t":0.254,"wi":0.26},{"condition":"standing position","t":0.265,"wi":0.24},{"condition":"standing position","t":0.275,"wi":0.26},{"condition":"standing position","t":0.3,"wi":0.13},{"condition":"standing position","t":0.35,"wi":0.15},{"condition":"standing position","t":0.4,"wi":0.12},{"condition":"standing position","t":0.5,"wi":0.11},{"condition":"standing position","t":0.61,"wi":0.11},
      {"condition":"-6º head-down bed rest","t":0,"wi":0.12},{"condition":"-6º head-down bed rest","t":0.01,"wi":0.4},{"condition":"-6º head-down bed rest","t":0.02,"wi":2.5},{"condition":"-6º head-down bed rest","t":0.03,"wi":5.5},{"condition":"-6º head-down bed rest","t":0.04,"wi":7.1},{"condition":"-6º head-down bed rest","t":0.05,"wi":6.3},{"condition":"-6º head-down bed rest","t":0.06,"wi":4.5},{"condition":"-6º head-down bed rest","t":0.07,"wi":2.5},{"condition":"-6º head-down bed rest","t":0.08,"wi":0.8},{"condition":"-6º head-down bed rest","t":0.09,"wi":0.2},{"condition":"-6º head-down bed rest","t":0.097,"wi":0.05},{"condition":"-6º head-down bed rest","t":0.115,"wi":0.13},{"condition":"-6º head-down bed rest","t":0.13,"wi":0.07},{"condition":"-6º head-down bed rest","t":0.15,"wi":0.12},{"condition":"-6º head-down bed rest","t":0.168,"wi":0.15},{"condition":"-6º head-down bed rest","t":0.2,"wi":0.1},{"condition":"-6º head-down bed rest","t":0.247,"wi":0.21},{"condition":"-6º head-down bed rest","t":0.287,"wi":0.31},{"condition":"-6º head-down bed rest","t":0.31,"wi":0.76},{"condition":"-6º head-down bed rest","t":0.33,"wi":1.2},{"condition":"-6º head-down bed rest","t":0.348,"wi":0.68},{"condition":"-6º head-down bed rest","t":0.362,"wi":0.81},{"condition":"-6º head-down bed rest","t":0.375,"wi":0.43},{"condition":"-6º head-down bed rest","t":0.386,"wi":0.18},{"condition":"-6º head-down bed rest","t":0.396,"wi":0.23},{"condition":"-6º head-down bed rest","t":0.41,"wi":0.15},{"condition":"-6º head-down bed rest","t":0.45,"wi":0.13},{"condition":"-6º head-down bed rest","t":0.5,"wi":0.13},{"condition":"-6º head-down bed rest","t":0.55,"wi":0.14},{"condition":"-6º head-down bed rest","t":0.61,"wi":0.15},
      {"condition":"baseline (supine 0º)","t":0,"wi":0.12},{"condition":"baseline (supine 0º)","t":0.01,"wi":0.6},{"condition":"baseline (supine 0º)","t":0.02,"wi":3.0},{"condition":"baseline (supine 0º)","t":0.03,"wi":5.8},{"condition":"baseline (supine 0º)","t":0.04,"wi":7.0},{"condition":"baseline (supine 0º)","t":0.05,"wi":6.0},{"condition":"baseline (supine 0º)","t":0.06,"wi":3.7},{"condition":"baseline (supine 0º)","t":0.07,"wi":1.4},{"condition":"baseline (supine 0º)","t":0.08,"wi":0.3},{"condition":"baseline (supine 0º)","t":0.09,"wi":0},{"condition":"baseline (supine 0º)","t":0.1,"wi":-0.07},{"condition":"baseline (supine 0º)","t":0.12,"wi":-0.02},{"condition":"baseline (supine 0º)","t":0.143,"wi":0.07},{"condition":"baseline (supine 0º)","t":0.175,"wi":0.13},{"condition":"baseline (supine 0º)","t":0.21,"wi":0.13},{"condition":"baseline (supine 0º)","t":0.247,"wi":0.15},{"condition":"baseline (supine 0º)","t":0.263,"wi":0.21},{"condition":"baseline (supine 0º)","t":0.287,"wi":0.55},{"condition":"baseline (supine 0º)","t":0.3,"wi":0.68},{"condition":"baseline (supine 0º)","t":0.312,"wi":1.0},{"condition":"baseline (supine 0º)","t":0.324,"wi":1.47},{"condition":"baseline (supine 0º)","t":0.34,"wi":1.14},{"condition":"baseline (supine 0º)","t":0.35,"wi":0.75},{"condition":"baseline (supine 0º)","t":0.36,"wi":0.43},{"condition":"baseline (supine 0º)","t":0.375,"wi":0.18},{"condition":"baseline (supine 0º)","t":0.39,"wi":0.13},{"condition":"baseline (supine 0º)","t":0.45,"wi":0.12},{"condition":"baseline (supine 0º)","t":0.52,"wi":0.15},{"condition":"baseline (supine 0º)","t":0.56,"wi":0.13},{"condition":"baseline (supine 0º)","t":0.61,"wi":0.13}
    ],
    "gap": []
  },
  "hconcat": [
    {
      "title": {"text": "baseline", "offset": 1},
      "width": 198,
      "height": 544,
      "data": {"name": "baseline"},
      "mark": {"type": "line", "color": "#e8202a", "strokeWidth": 1.1, "clip": true},
      "encoding": {
        "x": {"field": "t", "type": "quantitative", "scale": {"domain": [-0.01, 0.61], "nice": false, "zero": false},
          "axis": {"title": "time, s", "values": [0,0.05,0.1,0.15,0.2,0.25,0.3,0.35,0.4,0.45,0.5,0.55,0.6], "labelExpr": "round(datum.value*100) % 10 == 0 ? (datum.value == 0 ? '0' : format(datum.value, '.1f')) : ''", "tickSize": {"condition": {"test": "round(datum.value*100) % 10 == 0", "value": -9}, "value": -5}, "labelFontSize": 16, "labelPadding": 17, "titleFontSize": 23, "titlePadding": 8}},
        "y": {"field": "wi", "type": "quantitative", "scale": {"domain": [-1, 8], "nice": false, "zero": false},
          "axis": {"title": "wave intensity, W/m²", "values": [-1,-0.5,0,0.5,1,1.5,2,2.5,3,3.5,4,4.5,5,5.5,6,6.5,7,7.5,8], "labelExpr": "datum.value == 0 ? '0' : (datum.value > 0 && datum.value % 2 == 0 ? datum.value + '×10⁶' : '')", "tickSize": -5, "labelFontSize": 14, "labelPadding": 8, "titleFontSize": 26, "titlePadding": 6}},
        "detail": {"field": "beat", "type": "nominal"}
      }
    },
    {
      "title": "standing",
      "width": 198,
      "height": 544,
      "data": {"name": "standing"},
      "mark": {"type": "line", "color": "#3040a0", "strokeWidth": 1.1, "clip": true},
      "encoding": {
        "x": {"field": "t", "type": "quantitative", "scale": {"domain": [-0.01, 0.61], "nice": false, "zero": false},
          "axis": {"title": "time, s", "values": [0,0.05,0.1,0.15,0.2,0.25,0.3,0.35,0.4,0.45,0.5,0.55,0.6], "labelExpr": "round(datum.value*100) % 10 == 0 ? (datum.value == 0 ? '0' : format(datum.value, '.1f')) : ''", "tickSize": {"condition": {"test": "round(datum.value*100) % 10 == 0", "value": -9}, "value": -5}, "labelFontSize": 16, "labelPadding": 17, "titleFontSize": 23, "titlePadding": 8}},
        "y": {"field": "wi", "type": "quantitative", "scale": {"domain": [-1, 8], "nice": false, "zero": false},
          "axis": {"title": null, "labels": false, "values": [-1,-0.5,0,0.5,1,1.5,2,2.5,3,3.5,4,4.5,5,5.5,6,6.5,7,7.5,8], "tickSize": -5}},
        "detail": {"field": "beat", "type": "nominal"}
      }
    },
    {
      "title": "bed rest (-6º)",
      "width": 198,
      "height": 544,
      "data": {"name": "bedrest"},
      "mark": {"type": "line", "color": "#1aa84c", "strokeWidth": 1.1, "clip": true},
      "encoding": {
        "x": {"field": "t", "type": "quantitative", "scale": {"domain": [-0.01, 0.61], "nice": false, "zero": false},
          "axis": {"title": "time, s", "values": [0,0.05,0.1,0.15,0.2,0.25,0.3,0.35,0.4,0.45,0.5,0.55,0.6], "labelExpr": "round(datum.value*100) % 10 == 0 ? (datum.value == 0 ? '0' : format(datum.value, '.1f')) : ''", "tickSize": {"condition": {"test": "round(datum.value*100) % 10 == 0", "value": -9}, "value": -5}, "labelFontSize": 16, "labelPadding": 17, "titleFontSize": 23, "titlePadding": 8}},
        "y": {"field": "wi", "type": "quantitative", "scale": {"domain": [-1, 8], "nice": false, "zero": false},
          "axis": {"title": null, "labels": false, "values": [-1,-0.5,0,0.5,1,1.5,2,2.5,3,3.5,4,4.5,5,5.5,6,6.5,7,7.5,8], "tickSize": -5}},
        "detail": {"field": "beat", "type": "nominal"}
      }
    },
    {
      "width": 1,
      "height": 544,
      "data": {"name": "gap"},
      "view": {"stroke": null},
      "mark": {"type": "point"},
      "encoding": {}
    },
    {
      "title": "averaged",
      "width": 256,
      "height": 544,
      "data": {"name": "averaged"},
      "encoding": {
        "x": {"field": "t", "type": "quantitative", "scale": {"domain": [-0.007, 0.607], "nice": false, "zero": false},
          "axis": {"title": "time, s", "values": [0,0.05,0.1,0.15,0.2,0.25,0.3,0.35,0.4,0.45,0.5,0.55,0.6], "labelExpr": "round(datum.value*100) % 10 == 0 ? (datum.value == 0 ? '0' : format(datum.value, '.1f')) : ''", "tickSize": {"condition": {"test": "round(datum.value*100) % 10 == 0", "value": -9}, "value": -5}, "labelFontSize": 16, "labelPadding": 17, "titleFontSize": 23, "titlePadding": 8}},
        "y": {"field": "wi", "type": "quantitative", "scale": {"domain": [-1, 8], "nice": false, "zero": false}, "axis": null}
      },
      "layer": [
        {
          "mark": {"type": "line", "strokeWidth": 3, "clip": true},
          "encoding": {
            "color": {"field": "condition", "type": "nominal",
              "scale": {"domain": ["baseline (supine 0º)", "standing position", "-6º head-down bed rest"], "range": ["#ec1f26", "#3343a3", "#17a84a"]},
              "legend": {"orient": "top-right", "title": null, "offset": 5, "padding": 0, "symbolType": "stroke", "symbolStrokeWidth": 3, "symbolSize": 196, "labelFontSize": 15.5, "labelFontWeight": "bold", "labelColor": "black", "labelOffset": 17, "rowPadding": 0, "labelLimit": 300}}
          }
        },
        {
          "transform": [{"filter": "datum.t == 0 && datum.condition == 'standing position'"}],
          "mark": {"type": "text", "text": "fcw", "fontSize": 22, "fontWeight": "bold", "align": "center", "baseline": "middle", "color": "black"},
          "encoding": {"x": {"datum": 0.108}, "y": {"datum": 6.7}}
        },
        {
          "transform": [{"filter": "datum.t == 0 && datum.condition == 'standing position'"}],
          "mark": {"type": "text", "text": "bcw", "fontSize": 22, "fontWeight": "bold", "align": "center", "baseline": "middle", "color": "black"},
          "encoding": {"x": {"datum": 0.118}, "y": {"datum": -0.3}}
        },
        {
          "transform": [{"filter": "datum.t == 0 && datum.condition == 'standing position'"}],
          "mark": {"type": "text", "text": "fdw", "fontSize": 22, "fontWeight": "bold", "align": "center", "baseline": "middle", "color": "black"},
          "encoding": {"x": {"datum": 0.326}, "y": {"datum": 1.62}}
        },
        {
          "transform": [{"filter": "datum.t == 0 && datum.condition == 'standing position'"}],
          "mark": {"type": "text", "text": ["fcw = forward compression wave", "bcw = backward compression wave", "fdw = forward decompression wave"], "fontSize": 13, "fontWeight": "bold", "align": "left", "baseline": "middle", "lineHeight": 16.7, "color": "black"},
          "encoding": {"x": {"datum": 0.146}, "y": {"datum": 3.4}}
        }
      ]
    }
  ],
  "spacing": 48,
  "bounds": "flush",
  "resolve": {"scale": {"color": "independent"}, "legend": {"color": "independent"}}
}
